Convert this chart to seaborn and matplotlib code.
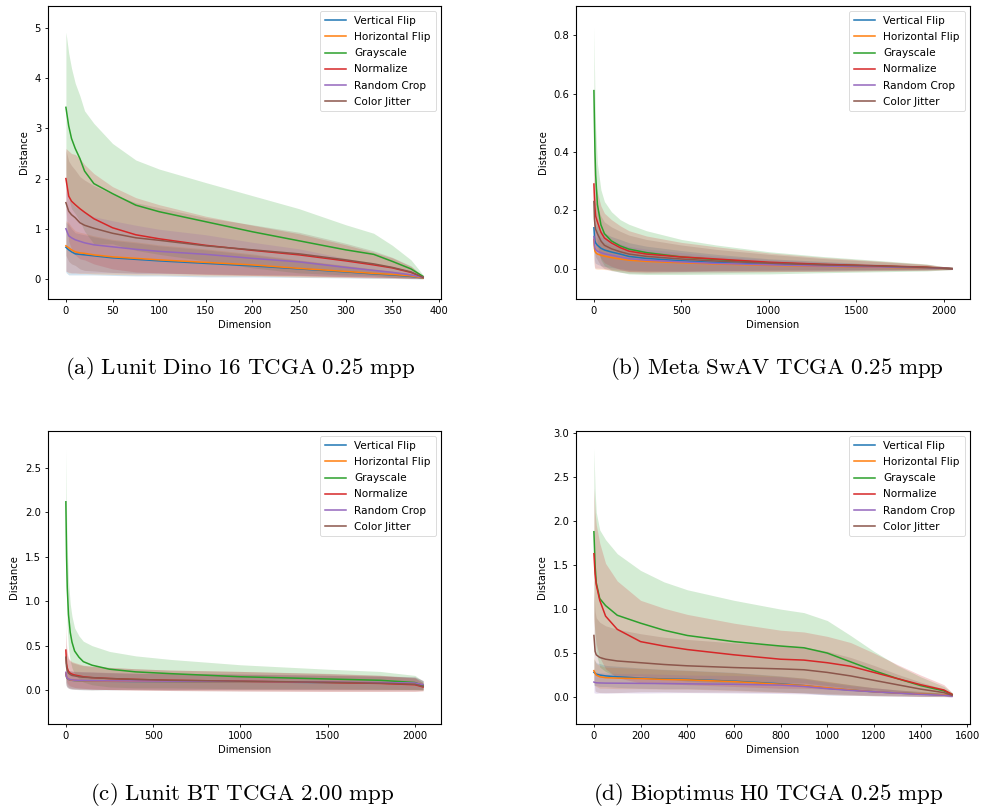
import numpy as np
import pandas as pd
import matplotlib
matplotlib.use("Agg")
import matplotlib.pyplot as plt
import seaborn as sns

SERIES = ["Vertical Flip", "Horizontal Flip", "Grayscale", "Normalize", "Random Crop", "Color Jitter"]
CAPTIONS = [
    "(a) Lunit Dino 16 TCGA 0.25 mpp",
    "(b) Meta SwAV TCGA 0.25 mpp",
    "(c) Lunit BT TCGA 2.00 mpp",
    "(d) Bioptimus H0 TCGA 0.25 mpp",
]

# ---------------- (a) Lunit Dino 16 ----------------
A_DIMS = [0, 3, 6, 10, 15, 20, 30, 50, 75, 100, 150, 200, 250, 300, 330, 350, 370, 383]
A_MEAN = {
    "Vertical Flip":   [0.63, 0.58, 0.54, 0.50, 0.49, 0.48, 0.46, 0.42, 0.39, 0.36, 0.31, 0.26, 0.20, 0.14, 0.10, 0.08, 0.05, 0.02],
    "Horizontal Flip": [0.66, 0.62, 0.58, 0.54, 0.52, 0.51, 0.48, 0.44, 0.41, 0.38, 0.33, 0.28, 0.21, 0.15, 0.11, 0.09, 0.06, 0.02],
    "Grayscale":       [3.42, 3.05, 2.80, 2.60, 2.40, 2.15, 1.90, 1.70, 1.47, 1.34, 1.14, 0.94, 0.76, 0.58, 0.49, 0.35, 0.20, 0.05],
    "Normalize":       [2.00, 1.65, 1.55, 1.48, 1.40, 1.33, 1.20, 1.02, 0.88, 0.80, 0.67, 0.57, 0.48, 0.36, 0.28, 0.22, 0.13, 0.03],
    "Random Crop":     [1.00, 0.86, 0.82, 0.78, 0.75, 0.72, 0.68, 0.64, 0.59, 0.55, 0.49, 0.41, 0.34, 0.23, 0.17, 0.13, 0.08, 0.03],
    "Color Jitter":    [1.52, 1.35, 1.28, 1.22, 1.12, 1.07, 1.01, 0.91, 0.82, 0.77, 0.66, 0.58, 0.50, 0.38, 0.30, 0.23, 0.14, 0.03],
}
A_STD = {
    "Vertical Flip":   [0.50, 0.50, 0.46, 0.42, 0.41, 0.40, 0.38, 0.35, 0.33, 0.30, 0.27, 0.22, 0.17, 0.12, 0.09, 0.07, 0.05, 0.02],
    "Horizontal Flip": [0.50, 0.50, 0.46, 0.42, 0.41, 0.40, 0.38, 0.35, 0.33, 0.30, 0.27, 0.22, 0.17, 0.12, 0.09, 0.07, 0.05, 0.02],
    "Grayscale":       [1.50, 1.45, 1.40, 1.30, 1.25, 1.20, 1.20, 1.00, 0.90, 0.85, 0.78, 0.72, 0.64, 0.50, 0.42, 0.32, 0.18, 0.03],
    "Normalize":       [0.60, 0.90, 0.95, 1.00, 1.00, 0.95, 0.90, 0.82, 0.74, 0.68, 0.58, 0.50, 0.42, 0.32, 0.25, 0.20, 0.12, 0.02],
    "Random Crop":     [0.85, 0.72, 0.70, 0.66, 0.63, 0.60, 0.56, 0.52, 0.48, 0.44, 0.39, 0.32, 0.26, 0.18, 0.13, 0.10, 0.06, 0.02],
    "Color Jitter":    [1.05, 1.00, 0.98, 0.95, 0.92, 0.90, 0.85, 0.78, 0.70, 0.65, 0.56, 0.50, 0.43, 0.33, 0.26, 0.20, 0.12, 0.02],
}

# ---------------- (b) Meta SwAV ----------------
B_DIMS = [0, 3, 6, 10, 20, 40, 60, 100, 150, 200, 300, 500, 700, 1000, 1300, 1600, 1900, 2047]
B_MEAN = {
    "Vertical Flip":   [0.140, 0.110, 0.095, 0.088, 0.080, 0.070, 0.064, 0.057, 0.050, 0.042, 0.035, 0.027, 0.021, 0.014, 0.010, 0.006, 0.003, 0.0],
    "Horizontal Flip": [0.100, 0.070, 0.060, 0.055, 0.050, 0.046, 0.043, 0.038, 0.033, 0.029, 0.025, 0.020, 0.016, 0.011, 0.008, 0.005, 0.002, 0.0],
    "Grayscale":       [0.610, 0.500, 0.400, 0.320, 0.220, 0.150, 0.120, 0.095, 0.078, 0.067, 0.055, 0.040, 0.031, 0.020, 0.014, 0.009, 0.004, 0.0],
    "Normalize":       [0.290, 0.240, 0.210, 0.180, 0.160, 0.125, 0.105, 0.088, 0.072, 0.060, 0.050, 0.040, 0.033, 0.022, 0.015, 0.010, 0.005, 0.0],
    "Random Crop":     [0.110, 0.080, 0.070, 0.065, 0.060, 0.055, 0.051, 0.046, 0.040, 0.034, 0.029, 0.023, 0.018, 0.013, 0.009, 0.006, 0.003, 0.0],
    "Color Jitter":    [0.230, 0.170, 0.150, 0.135, 0.120, 0.095, 0.080, 0.068, 0.058, 0.050, 0.042, 0.033, 0.026, 0.019, 0.013, 0.009, 0.004, 0.0],
}
B_STD = {
    "Vertical Flip":   [0.090, 0.080, 0.075, 0.070, 0.065, 0.060, 0.057, 0.053, 0.050, 0.047, 0.042, 0.035, 0.028, 0.020, 0.015, 0.010, 0.006, 0.002],
    "Horizontal Flip": [0.075, 0.065, 0.060, 0.056, 0.052, 0.048, 0.046, 0.043, 0.040, 0.038, 0.034, 0.028, 0.022, 0.016, 0.012, 0.008, 0.005, 0.002],
    "Grayscale":       [0.220, 0.200, 0.180, 0.160, 0.140, 0.120, 0.110, 0.100, 0.090, 0.085, 0.075, 0.060, 0.050, 0.038, 0.028, 0.020, 0.012, 0.003],
    "Normalize":       [0.150, 0.130, 0.120, 0.110, 0.100, 0.090, 0.085, 0.080, 0.075, 0.070, 0.062, 0.050, 0.042, 0.032, 0.024, 0.017, 0.010, 0.003],
    "Random Crop":     [0.080, 0.072, 0.068, 0.063, 0.058, 0.054, 0.051, 0.048, 0.045, 0.042, 0.038, 0.032, 0.025, 0.018, 0.014, 0.009, 0.005, 0.002],
    "Color Jitter":    [0.130, 0.110, 0.100, 0.095, 0.090, 0.085, 0.080, 0.075, 0.070, 0.065, 0.058, 0.048, 0.040, 0.030, 0.022, 0.016, 0.010, 0.003],
}

# ---------------- (c) Lunit BT ----------------
C_DIMS = [0, 2, 4, 8, 15, 25, 35, 50, 75, 100, 150, 250, 400, 600, 1000, 1500, 1800, 2000, 2047]
C_MEAN = {
    "Vertical Flip":   [0.18, 0.160, 0.145, 0.130, 0.120, 0.113, 0.110, 0.107, 0.105, 0.103, 0.101, 0.099, 0.097, 0.095, 0.092, 0.085, 0.080, 0.075, 0.055],
    "Horizontal Flip": [0.19, 0.165, 0.148, 0.132, 0.122, 0.115, 0.112, 0.109, 0.107, 0.105, 0.103, 0.101, 0.099, 0.097, 0.094, 0.087, 0.082, 0.077, 0.057],
    "Grayscale":       [2.12, 1.80, 1.50, 1.15, 0.85, 0.65, 0.54, 0.44, 0.37, 0.32, 0.28, 0.235, 0.205, 0.185, 0.150, 0.125, 0.110, 0.085, 0.050],
    "Normalize":       [0.45, 0.36, 0.30, 0.25, 0.21, 0.19, 0.18, 0.17, 0.16, 0.15, 0.14, 0.130, 0.120, 0.110, 0.100, 0.085, 0.075, 0.060, 0.035],
    "Random Crop":     [0.20, 0.170, 0.150, 0.135, 0.125, 0.118, 0.115, 0.112, 0.110, 0.108, 0.106, 0.104, 0.102, 0.100, 0.097, 0.090, 0.085, 0.080, 0.060],
    "Color Jitter":    [0.37, 0.30, 0.26, 0.22, 0.19, 0.175, 0.165, 0.160, 0.150, 0.145, 0.140, 0.130, 0.120, 0.110, 0.100, 0.088, 0.078, 0.065, 0.040],
}
C_STD = {
    "Vertical Flip":   [0.12, 0.11, 0.105, 0.10, 0.10, 0.10, 0.10, 0.10, 0.10, 0.10, 0.10, 0.095, 0.09, 0.09, 0.085, 0.08, 0.075, 0.07, 0.05],
    "Horizontal Flip": [0.12, 0.11, 0.105, 0.10, 0.10, 0.10, 0.10, 0.10, 0.10, 0.10, 0.10, 0.095, 0.09, 0.09, 0.085, 0.08, 0.075, 0.07, 0.05],
    "Grayscale":       [0.60, 0.55, 0.50, 0.45, 0.38, 0.32, 0.29, 0.26, 0.24, 0.23, 0.22, 0.20, 0.18, 0.16, 0.135, 0.11, 0.10, 0.08, 0.05],
    "Normalize":       [0.30, 0.24, 0.20, 0.17, 0.15, 0.145, 0.14, 0.14, 0.135, 0.13, 0.128, 0.125, 0.12, 0.115, 0.11, 0.10, 0.09, 0.075, 0.045],
    "Random Crop":     [0.12, 0.11, 0.105, 0.10, 0.10, 0.10, 0.10, 0.10, 0.10, 0.10, 0.10, 0.095, 0.09, 0.09, 0.085, 0.08, 0.075, 0.07, 0.05],
    "Color Jitter":    [0.28, 0.22, 0.19, 0.17, 0.155, 0.15, 0.145, 0.14, 0.135, 0.13, 0.128, 0.125, 0.12, 0.115, 0.11, 0.10, 0.09, 0.075, 0.045],
}

# ---------------- (d) Bioptimus H0 ----------------
D_DIMS = [0, 5, 10, 25, 50, 100, 200, 300, 400, 600, 800, 900, 1000, 1100, 1200, 1300, 1400, 1500, 1535]
D_MEAN = {
    "Vertical Flip":   [0.28, 0.27, 0.26, 0.25, 0.24, 0.23, 0.215, 0.205, 0.20, 0.18, 0.15, 0.13, 0.100, 0.080, 0.060, 0.045, 0.035, 0.025, 0.02],
    "Horizontal Flip": [0.30, 0.27, 0.25, 0.23, 0.22, 0.215, 0.21, 0.20, 0.195, 0.175, 0.145, 0.13, 0.105, 0.080, 0.060, 0.045, 0.035, 0.025, 0.02],
    "Grayscale":       [1.88, 1.50, 1.30, 1.12, 1.04, 0.93, 0.84, 0.76, 0.70, 0.63, 0.58, 0.56, 0.50, 0.40, 0.30, 0.21, 0.13, 0.07, 0.03],
    "Normalize":       [1.63, 1.40, 1.28, 1.10, 0.92, 0.77, 0.63, 0.58, 0.54, 0.48, 0.43, 0.42, 0.39, 0.35, 0.28, 0.21, 0.14, 0.08, 0.03],
    "Random Crop":     [0.17, 0.165, 0.162, 0.16, 0.158, 0.157, 0.155, 0.153, 0.15, 0.145, 0.135, 0.12, 0.095, 0.075, 0.06, 0.045, 0.03, 0.02, 0.01],
    "Color Jitter":    [0.70, 0.52, 0.48, 0.45, 0.43, 0.41, 0.39, 0.37, 0.355, 0.335, 0.32, 0.31, 0.28, 0.24, 0.19, 0.14, 0.09, 0.05, 0.02],
}
D_STD = {
    "Vertical Flip":   [0.15, 0.14, 0.13, 0.13, 0.12, 0.12, 0.115, 0.11, 0.105, 0.10, 0.09, 0.085, 0.075, 0.06, 0.045, 0.035, 0.028, 0.02, 0.015],
    "Horizontal Flip": [0.15, 0.14, 0.13, 0.13, 0.12, 0.12, 0.115, 0.11, 0.105, 0.10, 0.09, 0.085, 0.075, 0.06, 0.045, 0.035, 0.028, 0.02, 0.015],
    "Grayscale":       [0.95, 0.85, 0.80, 0.78, 0.75, 0.70, 0.60, 0.55, 0.52, 0.47, 0.42, 0.40, 0.37, 0.30, 0.22, 0.15, 0.10, 0.05, 0.02],
    "Normalize":       [0.75, 0.70, 0.68, 0.65, 0.60, 0.55, 0.47, 0.43, 0.40, 0.36, 0.33, 0.32, 0.30, 0.27, 0.22, 0.16, 0.11, 0.06, 0.02],
    "Random Crop":     [0.12, 0.12, 0.12, 0.115, 0.115, 0.11, 0.11, 0.105, 0.10, 0.10, 0.095, 0.085, 0.07, 0.055, 0.045, 0.035, 0.025, 0.015, 0.01],
    "Color Jitter":    [0.50, 0.45, 0.42, 0.40, 0.38, 0.36, 0.33, 0.31, 0.30, 0.28, 0.27, 0.26, 0.24, 0.21, 0.17, 0.12, 0.08, 0.04, 0.02],
}

PANELS = [
    (A_DIMS, A_MEAN, A_STD),
    (B_DIMS, B_MEAN, B_STD),
    (C_DIMS, C_MEAN, C_STD),
    (D_DIMS, D_MEAN, D_STD),
]

# ---------------- layout ----------------
W, H = 982, 807
DPI = 100
plt.rcParams["font.family"] = ["DejaVu Sans"]
plt.rcParams["mathtext.fontset"] = "cm"
fig = plt.figure(figsize=(W / DPI, H / DPI), dpi=DPI)

# axes boxes in pixels: (left, top, right, bottom)
BOXES = [(48, 6, 441, 299), (576, 6, 970, 299), (48, 431, 441, 724), (576, 431, 970, 724)]
XLIMS = [(-19.2, 402.2), (-102.4, 2149.4), (-102.4, 2149.4), (-76.8, 1611.8)]
YLIMS = [(-0.40, 5.44), (-0.104, 0.90), (-0.382, 2.917), (-0.307, 3.026)]
XTICKS = [[0, 50, 100, 150, 200, 250, 300, 350, 400], [0, 500, 1000, 1500, 2000],
          [0, 500, 1000, 1500, 2000], [0, 200, 400, 600, 800, 1000, 1200, 1400, 1600]]
CAP_X = [240, 777, 242, 768]
CAP_Y = [368, 368, 795, 795]

palette = dict(zip(SERIES, sns.color_palette("tab10", 6)))
FS = 7.2

for i, (dims, means, stds) in enumerate(PANELS):
    l, t, r, b = BOXES[i]
    ax = fig.add_axes([l / W, 1 - b / H, (r - l) / W, (b - t) / H])
    rows = []
    for s in SERIES:
        for d, m in zip(dims, means[s]):
            rows.append({"Dimension": d, "Distance": m, "Augmentation": s})
    df = pd.DataFrame(rows)
    for s in SERIES:
        m = np.array(means[s]); sd = np.array(stds[s])
        ax.fill_between(dims, m - sd, m + sd, color=palette[s], alpha=0.2, linewidth=0, zorder=1)
    sns.lineplot(data=df, x="Dimension", y="Distance", hue="Augmentation", hue_order=SERIES,
                 palette=palette, linewidth=1.1, ax=ax, zorder=3)
    ax.set_xlim(*XLIMS[i])
    ax.set_ylim(*YLIMS[i])
    ax.set_xticks(XTICKS[i])
    ax.tick_params(labelsize=FS, length=2.5, width=0.6, pad=2.5)
    ax.set_xlabel("Dimension", fontsize=FS, labelpad=3)
    ax.set_ylabel("Distance", fontsize=FS, labelpad=4)
    for sp in ax.spines.values():
        sp.set_linewidth(0.8)
    leg = ax.legend(loc="upper right", fontsize=7.6, title=None, handlelength=2.0,
                    borderpad=0.45, labelspacing=0.58, handletextpad=0.8, borderaxespad=0.5)
    leg.get_frame().set_linewidth(0.6)
    for ln in leg.get_lines():
        ln.set_linewidth(1.1)
    words = CAPTIONS[i].replace(" ", r"\ ")
    fig.text(CAP_X[i] / W, 1 - CAP_Y[i] / H, r"$\mathrm{" + words + "}$", ha="center", va="center",
             fontsize=16.5)

fig.savefig("out.png", dpi=DPI)
